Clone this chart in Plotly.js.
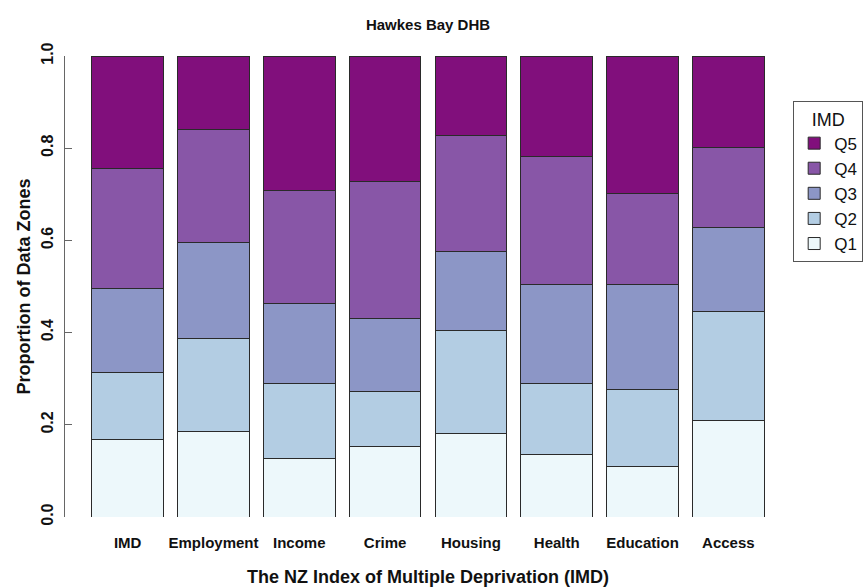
<!DOCTYPE html>
<html>
<head>
<meta charset="utf-8">
<script src="https://cdn.plot.ly/plotly-3.0.1.min.js"></script>
<style>html,body{margin:0;padding:0;background:#fff;}#chart{width:864px;height:588px;}</style>
</head>
<body>
<div id="chart"></div>
<script>
const categories = ["IMD", "Employment", "Income", "Crime", "Housing", "Health", "Education", "Access"];
const q1 = [0.169, 0.185, 0.127, 0.154, 0.181, 0.136, 0.109, 0.209];
const q2 = [0.144, 0.202, 0.163, 0.118, 0.224, 0.154, 0.167, 0.236];
const q3 = [0.182, 0.209, 0.173, 0.159, 0.172, 0.214, 0.228, 0.182];
const q4 = [0.260, 0.245, 0.246, 0.296, 0.250, 0.278, 0.197, 0.174];
const q5 = [0.245, 0.159, 0.291, 0.273, 0.173, 0.218, 0.299, 0.199];
const seriesNames = ["Q1", "Q2", "Q3", "Q4", "Q5"];
const seriesValues = [q1, q2, q3, q4, q5];
const seriesColors = ["#EDF8FB", "#B3CDE3", "#8C96C6", "#8856A7", "#810F7C"];
const yTickVals = [0, 0.2, 0.4, 0.6, 0.8, 1.0];
const yTickText = ["0.0", "0.2", "0.4", "0.6", "0.8", "1.0"];

const FONT = "Liberation Sans, Arial, Helvetica, sans-serif";

const traces = seriesNames.map((name, i) => ({
  type: "bar",
  name: name,
  x: categories,
  y: seriesValues[i],
  marker: {color: seriesColors[i], line: {color: "#2a2a2a", width: 1}},
  hoverinfo: "x+y+name"
}));

const layout = {
  width: 864,
  height: 588,
  barmode: "stack",
  bargap: 0.1667,
  paper_bgcolor: "#ffffff",
  plot_bgcolor: "#ffffff",
  margin: {l: 65, r: 73, t: 56, b: 71, autoexpand: false},
  font: {family: FONT, color: "#000"},
  title: {
    text: "Hawkes Bay DHB",
    font: {family: FONT, size: 15, weight: "bold", color: "#111"},
    x: 0.5, xref: "paper", xanchor: "center",
    y: 0.958, yref: "container", yanchor: "middle"
  },
  xaxis: {
    type: "category",
    range: [-0.73, 7.73],
    showline: false,
    ticks: "",
    showgrid: false,
    zeroline: false,
    ticklabelstandoff: 15,
    tickfont: {family: FONT, size: 15, weight: "bold", color: "#111"},
    title: {text: "The NZ Index of Multiple Deprivation (IMD)", font: {family: FONT, size: 18, weight: "bold", color: "#111"}, standoff: 20}
  },
  yaxis: {
    range: [0, 1],
    showline: true,
    linecolor: "#666",
    linewidth: 1,
    ticks: "inside",
    ticklen: 7,
    tickcolor: "#666",
    tickvals: yTickVals,
    ticktext: yTickText,
    tickangle: -90,
    showgrid: false,
    zeroline: false,
    ticklabelstandoff: 5,
    tickfont: {family: FONT, size: 16, weight: "bold", color: "#111"},
    title: {text: "Proportion of Data Zones", font: {family: FONT, size: 18, weight: "bold", color: "#111"}, standoff: 3}
  },
  legend: {
    x: 1.003, xanchor: "left", xref: "paper",
    y: 0.902, yanchor: "top", yref: "paper",
    traceorder: "reversed",
    bordercolor: "#555",
    borderwidth: 1,
    bgcolor: "#fff",
    font: {family: FONT, size: 17, color: "#111"},
    title: {text: "IMD", side: "top center", font: {family: FONT, size: 18, color: "#111"}}
  },
  showlegend: true
};

Plotly.newPlot("chart", traces, layout, {displayModeBar: false, staticPlot: true});
</script>
</body>
</html>
